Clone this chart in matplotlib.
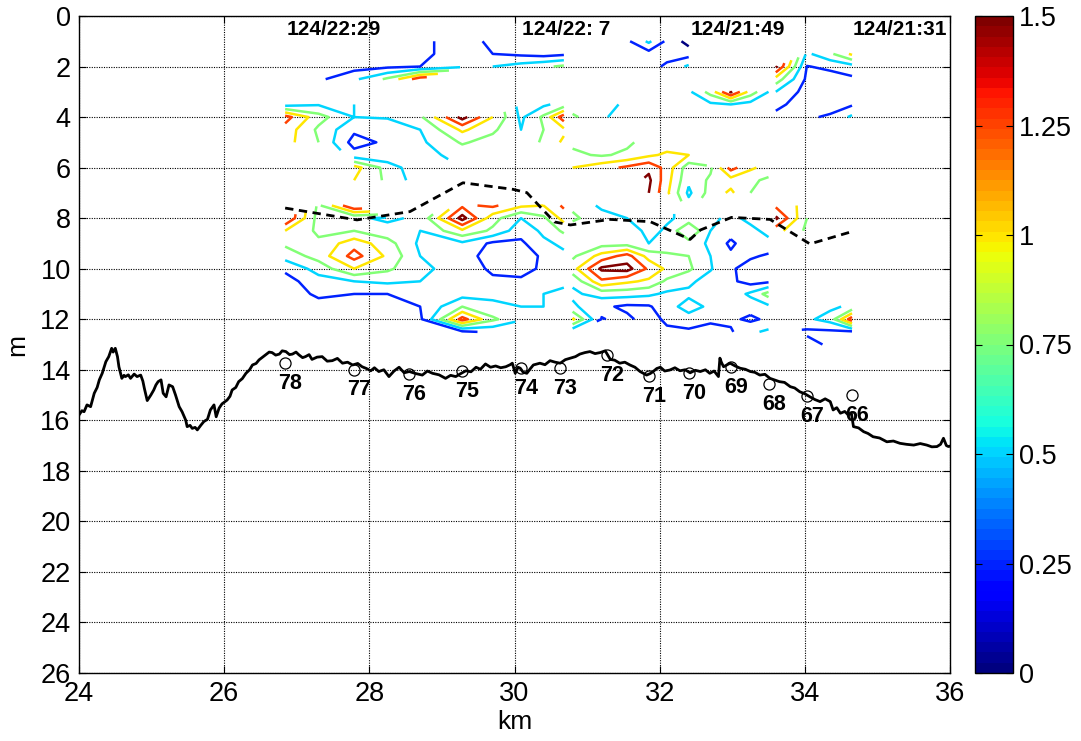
import numpy as np
import matplotlib.pyplot as plt
from matplotlib import colors, cm

plt.rcParams['font.family'] = ['Liberation Sans', 'DejaVu Sans']

N = np.nan

# depth bins (m) shared by the three transects
depth = [1.0, 1.5, 2.0, 2.5, 3.0, 3.5, 4.0, 4.5, 5.0, 5.5, 6.0, 6.5, 7.0,
         7.5, 8.0, 8.5, 9.0, 9.5, 10.0, 10.5, 11.0, 11.5, 12.0, 12.5, 13.0]

# transect 124/22:29
seg_a_km = [26.84, 27.3, 27.79, 28.25, 28.7, 29.28, 29.7, 30.09, 30.4, 30.68]
seg_a = [
    [N, N, N, N, .2, .35, .2, .1, .05, .05],
    [N, N, N, N, .2, .35, .25, .2, .15, .2],
    [N, .1, .15, .2, .25, .45, .5, .6, .7, .8],
    [N, .2, .45, .8, 1.4, N, N, N, N, N],
    [N, N, N, N, N, N, N, N, N, N],
    [.4, .48, .5, N, N, N, N, .4, .45, .6],
    [1.35, .85, .5, .52, .7, 1.6, 1.0, .45, .8, 1.4],
    [1.15, .7, .3, .35, .5, 1.05, .8, .5, .75, .95],
    [1.1, .75, .15, .3, .45, .78, .65, .55, .8, 1.05],
    [N, N, .35, .3, .4, .6, .5, N, N, N],
    [N, N, 1.1, .65, .3, N, N, N, N, N],
    [N, N, 1.0, .7, .35, N, N, N, N, N],
    [N, N, N, N, N, N, N, N, N, N],
    [N, .7, 1.5, N, N, 1.2, 1.3, 1.05, 1.0, 1.3],
    [1.5, .65, .55, .45, .55, 1.6, .85, .5, .7, 1.1],
    [1.0, .7, .75, .6, .5, .95, .7, .35, .55, .8],
    [.8, .8, 1.15, .85, .45, .45, .2, .2, .45, .55],
    [.6, .85, 1.35, .95, .5, .35, .15, .1, .3, .45],
    [.3, .6, 1.0, .8, .55, .4, .2, .15, .3, .5],
    [.15, .4, .5, .55, .5, .35, .3, .3, .35, .45],
    [.1, .3, .25, .25, .3, .4, .45, .4, .5, .55],
    [.05, .15, .1, .15, .25, .75, .55, .5, .5, .6],
    [N, N, .05, .1, .2, 1.35, .8, .55, .6, .7],
    [N, N, N, N, .05, .2, .3, N, N, N],
    [N, N, N, N, N, N, N, N, N, N],
]

# transect 124/22: 7
seg_b_km = [30.8, 31.2, 31.55, 31.85, 32.1, 32.4, 32.7, 32.98, 33.25, 33.5]
seg_b = [
    [N, N, .2, .55, .2, -.1, N, N, N, N],
    [N, N, .15, .15, .15, .15, N, N, N, N],
    [N, N, N, .15, .3, .55, N, N, N, N],
    [N, N, N, N, N, N, N, N, N, N],
    [N, N, N, N, N, .45, .85, 1.55, .9, .5],
    [.6, .7, .4, N, N, .3, .45, .5, .4, .3],
    [.8, .55, .35, N, N, N, N, N, N, N],
    [N, N, N, N, N, N, N, N, N, N],
    [.7, .55, .7, .85, .85, .8, N, N, N, N],
    [.8, .72, .8, .95, 1.05, 1.0, N, N, N, N],
    [1.0, 1.15, 1.3, 1.45, 1.15, .6, .7, 1.35, 1.05, .9],
    [N, N, N, 1.55, 1.1, .55, .8, .9, .8, .7],
    [N, N, N, 1.5, 1.05, .45, .85, 1.05, .75, .6],
    [.7, .45, .4, N, N, .6, N, N, N, N],
    [.8, .6, .5, .35, .45, .6, .55, .45, .55, .6],
    [.6, .7, .7, .4, .55, 1.0, .5, .35, .45, .55],
    [.55, .65, .65, .5, .6, .65, .45, .2, .4, .45],
    [.7, 1.1, 1.35, .9, .8, .75, .5, .3, .3, .2],
    [.9, 1.55, 1.6, 1.2, .95, .8, .52, .3, .1, .1],
    [.55, 1.2, 1.05, .95, .7, .55, .4, .3, .15, .2],
    [.45, .6, .6, .55, .45, .45, .35, .35, .55, .85],
    [.55, .3, .2, .22, .4, .6, .45, .3, .35, .45],
    [1.05, .24, .3, .15, .3, .4, .3, .3, .2, .3],
    [.3, N, N, N, .2, .2, .15, .22, .45, .55],
    [N, N, N, N, N, N, N, N, N, N],
]

# transect 124/21:49
seg_c_km = [33.6, 34.03, 34.35, 34.65]
seg_c = [
    [N, N, N, N],
    [N, .45, .7, 1.05],
    [1.55, .24, .3, .4],
    [.9, .2, .15, .2],
    [.5, .15, .1, .15],
    [.3, .15, .1, .22],
    [.2, .2, .3, .55],
    [N, N, N, N],
    [N, N, N, N],
    [N, N, N, N],
    [N, N, N, N],
    [N, N, N, N],
    [N, N, N, N],
    [1.2, .9, N, N],
    [1.55, .75, N, N],
    [1.1, .7, N, N],
    [N, N, N, N],
    [N, N, N, N],
    [N, N, N, N],
    [N, N, N, N],
    [N, N, N, N],
    [.45, .5, .45, .55],
    [.5, .45, .6, 1.4],
    [N, .2, .2, .2],
    [N, .35, .2, N],
]

# mixed layer depth along the section
mld_km = [26.84, 27.83, 28.56, 29.29, 29.98, 30.17, 30.55, 30.77, 31.32,
          31.87, 32.42, 32.56, 32.99, 33.52, 34.07, 34.64]
mld_m = [7.6, 8.07, 7.74, 6.6, 6.86, 6.99, 8.15, 8.27, 8.05,
         8.14, 8.84, 8.47, 7.97, 8.05, 9.02, 8.54]

# echo sounder bottom
bottom_km = [24.00, 24.04, 24.07, 24.11, 24.16, 24.21, 24.25, 24.28, 24.32,
             24.37, 24.41, 24.45, 24.47, 24.50, 24.53, 24.55, 24.59, 24.62,
             24.64, 24.68, 24.71, 24.76, 24.80, 24.85, 24.88, 24.90, 24.94,
             24.99, 25.03, 25.06, 25.09, 25.13, 25.16, 25.20, 25.24, 25.29,
             25.33, 25.38, 25.42, 25.47, 25.49, 25.53, 25.56, 25.60, 25.63,
             25.68, 25.72, 25.77, 25.81, 25.86, 25.89, 25.93, 25.97, 26.04,
             26.08, 26.11, 26.16, 26.20, 26.25, 26.30, 26.35, 26.39, 26.44,
             26.48, 26.53, 26.57, 26.62, 26.66, 26.71, 26.76, 26.80, 26.85,
             26.90, 26.94, 26.99, 27.03, 27.08, 27.12, 27.17, 27.21, 27.28,
             27.35, 27.42, 27.49, 27.56, 27.63, 27.70, 27.77, 27.84, 27.90,
             27.96, 28.02, 28.07, 28.13, 28.20, 28.27, 28.34, 28.41, 28.48,
             28.55, 28.64, 28.73, 28.80, 28.87, 28.96, 29.05, 29.12, 29.19,
             29.26, 29.33, 29.40, 29.47, 29.53, 29.60, 29.67, 29.74, 29.81,
             29.88, 29.94, 29.97, 30.01, 30.05, 30.08, 30.12, 30.17, 30.22,
             30.26, 30.35, 30.42, 30.49, 30.56, 30.63, 30.70, 30.77, 30.84,
             30.90, 30.97, 31.04, 31.11, 31.18, 31.25, 31.32, 31.38, 31.45,
             31.52, 31.59, 31.66, 31.73, 31.82, 31.87, 31.91, 31.96, 32.01,
             32.07, 32.14, 32.21, 32.28, 32.35, 32.42, 32.49, 32.56, 32.63,
             32.69, 32.75, 32.81, 32.83, 32.85, 32.88, 32.93, 32.97, 33.04,
             33.11, 33.18, 33.25, 33.31, 33.38, 33.45, 33.52, 33.58, 33.65,
             33.72, 33.80, 33.86, 33.93, 34.00, 34.07, 34.14, 34.21, 34.28,
             34.35, 34.39, 34.44, 34.49, 34.55, 34.60, 34.64, 34.67, 34.74,
             34.81, 34.87, 34.94, 35.03, 35.13, 35.22, 35.31, 35.40, 35.50,
             35.59, 35.68, 35.75, 35.82, 35.87, 35.91, 35.95, 35.98, 36.00]
bottom_m = [15.79, 15.62, 15.66, 15.39, 15.46, 14.93, 14.70, 14.40, 14.14,
            13.68, 13.48, 13.15, 13.30, 13.15, 13.48, 13.88, 14.34, 14.22,
            14.27, 14.20, 14.34, 14.17, 14.27, 14.21, 14.45, 14.73, 15.22,
            15.00, 14.80, 14.60, 14.47, 14.40, 14.93, 15.07, 14.60, 14.67,
            15.00, 15.46, 15.66, 15.99, 16.25, 16.20, 16.32, 16.28, 16.38,
            16.19, 16.05, 15.96, 15.59, 15.39, 15.86, 15.52, 15.35, 15.20,
            15.05, 14.80, 14.70, 14.47, 14.35, 14.14, 14.00, 13.81, 13.75,
            13.61, 13.50, 13.41, 13.30, 13.32, 13.42, 13.38, 13.25, 13.28,
            13.40, 13.38, 13.30, 13.41, 13.52, 13.48, 13.40, 13.59, 13.50,
            13.48, 13.66, 13.64, 13.55, 13.74, 13.70, 13.81, 13.75, 13.88,
            13.95, 14.04, 13.92, 14.07, 14.00, 14.27, 14.05, 13.90, 14.12,
            14.07, 14.15, 14.21, 14.05, 14.14, 14.20, 14.34, 14.22, 14.27,
            14.15, 14.04, 14.08, 13.90, 13.98, 13.77, 13.90, 13.85, 13.92,
            13.88, 13.80, 13.74, 14.14, 13.90, 13.94, 14.10, 14.14, 13.95,
            13.81, 13.74, 13.80, 13.64, 13.70, 13.74, 13.60, 13.54, 13.48,
            13.38, 13.32, 13.28, 13.36, 13.32, 13.25, 13.59, 13.62, 13.74,
            13.70, 13.81, 13.90, 14.07, 14.21, 14.15, 14.07, 13.95, 13.90,
            14.05, 14.01, 13.92, 14.04, 14.00, 14.12, 14.02, 14.07, 14.00,
            14.14, 14.05, 14.27, 13.54, 13.70, 13.88, 13.80, 13.74, 13.85,
            13.94, 13.98, 14.07, 14.10, 14.21, 14.18, 14.34, 14.40, 14.47,
            14.50, 14.67, 14.72, 14.87, 14.95, 15.07, 15.18, 15.26, 15.15,
            15.26, 15.59, 15.50, 15.72, 15.65, 15.79, 15.70, 16.25, 16.30,
            16.45, 16.52, 16.65, 16.70, 16.85, 16.82, 16.91, 16.95, 16.98,
            16.92, 16.98, 17.05, 17.04, 16.95, 16.71, 17.00, 17.04, 17.02]

# CTD stations
stn_id = [78, 77, 76, 75, 74, 73, 72, 71, 70, 69, 68, 67, 66]
stn_km = [26.84, 27.79, 28.55, 29.28, 30.09, 30.63, 31.27, 31.85, 32.40,
          32.98, 33.51, 34.03, 34.65]
stn_m = [13.73, 14.0, 14.17, 14.05, 13.93, 13.93, 13.42, 14.25, 14.13,
         13.89, 14.56, 15.04, 15.0]

# transect start times
time_lbl = ['124/22:29', '124/22: 7', '124/21:49', '124/21:31']
time_km = [27.51, 30.71, 33.07, 35.31]

levels = [0, 0.25, 0.5, 0.75, 1.0, 1.25, 1.5]
cmap = plt.get_cmap('jet', 64)
norm = colors.Normalize(vmin=0, vmax=1.5)

fig = plt.figure(figsize=(10.81, 7.41), dpi=100)
ax = fig.add_axes([79 / 1081, 68 / 741, 871 / 1081, 657 / 741])
cax = fig.add_axes([975 / 1081, 68 / 741, 38 / 1081, 657 / 741])

for km, vals in [(seg_a_km, seg_a), (seg_b_km, seg_b), (seg_c_km, seg_c)]:
    z = np.ma.masked_invalid(np.array(vals, dtype=float))
    ax.contour(km, depth, z, levels=levels, cmap=cmap, norm=norm,
               linewidths=1.8)

ax.plot(mld_km, mld_m, color='k', lw=2, linestyle=(0, (3, 2)))
ax.plot(bottom_km, bottom_m, color='k', lw=2)
ax.plot(stn_km, stn_m, 'o', mfc='none', mec='k', ms=8, mew=0.9)
for sid, x, y in zip(stn_id, stn_km, stn_m):
    ax.text(x + 0.07, y + 0.8, str(sid), ha='center', va='center',
            fontsize=15.5, fontweight='bold')
for t, x in zip(time_lbl, time_km):
    ax.text(x, 0.55, t, ha='center', va='center', fontsize=15,
            fontweight='bold')

ax.set_xlim(24, 36)
ax.set_ylim(26, 0)
ax.set_xticks(np.arange(24, 37, 2))
ax.set_yticks(np.arange(0, 27, 2))
ax.grid(True, color='k', linestyle=(0, (1, 1.2)), linewidth=0.8)
ax.tick_params(direction='in', top=True, right=True, length=5,
               labelsize=19.5, pad=6)
for s in ax.spines.values():
    s.set_linewidth(1.0)
ax.set_xlabel('km', fontsize=19, labelpad=2)
ax.set_ylabel('m', fontsize=19, labelpad=8)

cb = fig.colorbar(cm.ScalarMappable(norm=norm, cmap=cmap), cax=cax,
                  ticks=[0, 0.25, 0.5, 0.75, 1, 1.25, 1.5])
cb.ax.set_yticklabels(['0', '0.25', '0.5', '0.75', '1', '1.25', '1.5'])
cb.ax.tick_params(direction='in', left=True, right=True, length=5,
                  labelsize=19.5, pad=4)
cb.outline.set_linewidth(1.0)

fig.savefig('out.png', dpi=100)
